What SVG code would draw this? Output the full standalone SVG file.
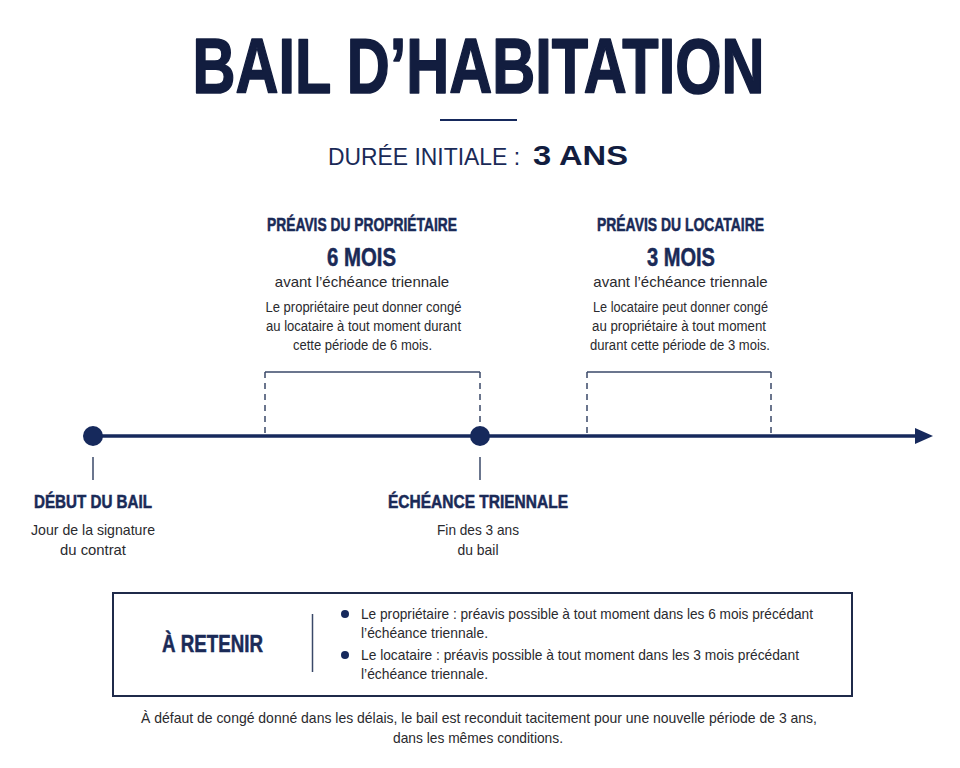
<svg xmlns="http://www.w3.org/2000/svg" width="960" height="768" viewBox="0 0 960 768">
  <defs>
    <style>
      .title { font-family: "Liberation Sans", Arial, sans-serif; font-weight: 700; fill: #121d3f; }
      .heavy { stroke: #121d3f; stroke-width: 1.6; stroke-linejoin: round; }
      .cond { font-family: "Liberation Sans", Arial, sans-serif; font-weight: 700; fill: #1a2a57; stroke: #1a2a57; stroke-width: 0.5; }
      .sub { font-family: "Liberation Sans", Arial, sans-serif; fill: #1a2a57; }
      .body { font-family: "Liberation Sans", Arial, sans-serif; fill: #2a2a2e; }
      .navy { stroke: #16295c; fill: none; }
      .bracket { stroke: #3a4868; stroke-width: 1.5; fill: none; }
      .dash { stroke: #3a4868; stroke-width: 1.5; stroke-dasharray: 6 5; fill: none; }
      .tick { stroke: #3a4868; stroke-width: 1.5; }
    </style>
    <marker id="arrow" viewBox="0 0 18 16" refX="0" refY="8" markerWidth="18" markerHeight="16" markerUnits="userSpaceOnUse" orient="auto">
      <path d="M0,0 L18,8 L0,16 Z" fill="#16295c"/>
    </marker>
  </defs>
  <rect width="960" height="768" fill="#ffffff"/>

  <g id="header">
    <text class="title heavy" x="478.5" y="93" font-size="78" text-anchor="middle" textLength="572" lengthAdjust="spacingAndGlyphs">BAIL D’HABITATION</text>
    <line x1="440" y1="120" x2="517" y2="120" stroke="#16295c" stroke-width="2"/>
    <text class="sub" x="328" y="165" font-size="23.5" textLength="192" lengthAdjust="spacingAndGlyphs">DURÉE INITIALE :</text>
    <text class="title" x="533" y="165" font-size="28" textLength="95" lengthAdjust="spacingAndGlyphs">3 ANS</text>
  </g>

  <g id="preavis-proprietaire">
    <text class="cond" x="362" y="231" font-size="18" text-anchor="middle" textLength="190" lengthAdjust="spacingAndGlyphs">PRÉAVIS DU PROPRIÉTAIRE</text>
    <text class="cond" x="361.5" y="266" font-size="25" text-anchor="middle" textLength="69" lengthAdjust="spacingAndGlyphs">6 MOIS</text>
    <text class="body" x="362" y="287" font-size="15" text-anchor="middle" fill="#333">avant l’échéance triennale</text>
    <text class="body" x="363.5" y="312" font-size="14" text-anchor="middle" textLength="196" lengthAdjust="spacingAndGlyphs">Le propriétaire peut donner congé</text>
    <text class="body" x="363.5" y="331" font-size="14" text-anchor="middle" textLength="195" lengthAdjust="spacingAndGlyphs">au locataire à tout moment durant</text>
    <text class="body" x="362.5" y="350" font-size="14" text-anchor="middle" textLength="139" lengthAdjust="spacingAndGlyphs">cette période de 6 mois.</text>
  </g>

  <g id="preavis-locataire">
    <text class="cond" x="680.5" y="231" font-size="18" text-anchor="middle" textLength="167" lengthAdjust="spacingAndGlyphs">PRÉAVIS DU LOCATAIRE</text>
    <text class="cond" x="681" y="266" font-size="25" text-anchor="middle" textLength="68" lengthAdjust="spacingAndGlyphs">3 MOIS</text>
    <text class="body" x="680.5" y="287" font-size="15" text-anchor="middle" fill="#333">avant l’échéance triennale</text>
    <text class="body" x="680.5" y="312" font-size="14" text-anchor="middle" textLength="175" lengthAdjust="spacingAndGlyphs">Le locataire peut donner congé</text>
    <text class="body" x="679" y="331" font-size="14" text-anchor="middle" textLength="174" lengthAdjust="spacingAndGlyphs">au propriétaire à tout moment</text>
    <text class="body" x="680" y="350" font-size="14" text-anchor="middle" textLength="180" lengthAdjust="spacingAndGlyphs">durant cette période de 3 mois.</text>
  </g>

  <g id="connectors">
    <line class="navy" x1="93" y1="436" x2="915" y2="436" stroke-width="3.5" marker-end="url(#arrow)"/>
    <polyline class="bracket" points="265,372 480,372"/>
    <line class="dash" x1="265" y1="372" x2="265" y2="436"/>
    <line class="dash" x1="480" y1="372" x2="480" y2="436"/>
    <polyline class="bracket" points="587,372 771,372"/>
    <line class="dash" x1="587" y1="372" x2="587" y2="436"/>
    <line class="dash" x1="771" y1="372" x2="771" y2="436"/>
    <line class="tick" x1="93" y1="457" x2="93" y2="480"/>
    <line class="tick" x1="480" y1="457" x2="480" y2="480"/>
  </g>

  <g id="debut-bail">
    <circle cx="93" cy="436" r="10" fill="#16295c"/>
    <text class="cond" x="93" y="508" font-size="17.5" text-anchor="middle" textLength="118" lengthAdjust="spacingAndGlyphs">DÉBUT DU BAIL</text>
    <text class="body" x="93" y="535" font-size="15" text-anchor="middle" textLength="124" lengthAdjust="spacingAndGlyphs">Jour de la signature</text>
    <text class="body" x="93" y="555" font-size="15" text-anchor="middle" textLength="66" lengthAdjust="spacingAndGlyphs">du contrat</text>
  </g>

  <g id="echeance-triennale">
    <circle cx="480" cy="436" r="10" fill="#16295c"/>
    <text class="cond" x="478" y="508" font-size="17.5" text-anchor="middle" textLength="180" lengthAdjust="spacingAndGlyphs">ÉCHÉANCE TRIENNALE</text>
    <text class="body" x="478" y="535" font-size="15" text-anchor="middle" textLength="82" lengthAdjust="spacingAndGlyphs">Fin des 3 ans</text>
    <text class="body" x="478" y="555" font-size="15" text-anchor="middle" textLength="41" lengthAdjust="spacingAndGlyphs">du bail</text>
  </g>

  <g id="a-retenir">
    <rect x="113" y="593" width="739" height="103" fill="#ffffff" stroke="#1f2a4a" stroke-width="2"/>
    <text class="cond" x="212.5" y="652" font-size="23" text-anchor="middle" textLength="101" lengthAdjust="spacingAndGlyphs">À RETENIR</text>
    <line x1="312.5" y1="614" x2="312.5" y2="672" stroke="#3a4868" stroke-width="1.5"/>
    <circle cx="345" cy="614" r="4" fill="#16295c"/>
    <circle cx="345" cy="655" r="4" fill="#16295c"/>
    <text class="body" x="361" y="619" font-size="14.5" textLength="452" lengthAdjust="spacingAndGlyphs">Le propriétaire : préavis possible à tout moment dans les 6 mois précédant</text>
    <text class="body" x="361" y="638" font-size="14.5" textLength="127" lengthAdjust="spacingAndGlyphs">l’échéance triennale.</text>
    <text class="body" x="361" y="660" font-size="14.5" textLength="438" lengthAdjust="spacingAndGlyphs">Le locataire : préavis possible à tout moment dans les 3 mois précédant</text>
    <text class="body" x="361" y="679" font-size="14.5" textLength="127" lengthAdjust="spacingAndGlyphs">l’échéance triennale.</text>
  </g>

  <g id="footer">
    <text class="body" x="479" y="723" font-size="14.5" text-anchor="middle" textLength="676" lengthAdjust="spacingAndGlyphs" fill="#333">À défaut de congé donné dans les délais, le bail est reconduit tacitement pour une nouvelle période de 3 ans,</text>
    <text class="body" x="478" y="743" font-size="14.5" text-anchor="middle" textLength="170" lengthAdjust="spacingAndGlyphs" fill="#333">dans les mêmes conditions.</text>
  </g>
</svg>
